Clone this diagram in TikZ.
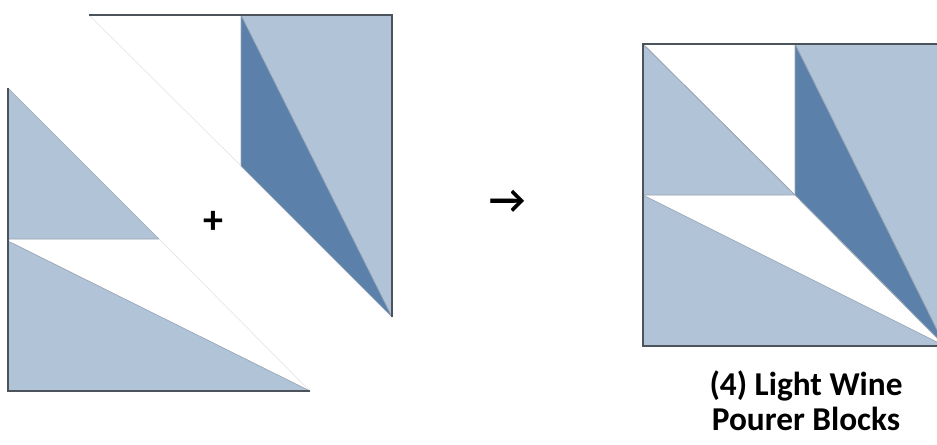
\documentclass[tikz,border=0pt]{standalone}
\usepackage{fontspec}
\setmainfont{Carlito}
\definecolor{lightq}{HTML}{B1C3D7}
\definecolor{darkq}{HTML}{5B81AB}
\definecolor{edgeq}{HTML}{4D535B}
\definecolor{seamq}{HTML}{9AA6B4}
\begin{document}
\begin{tikzpicture}[x=0.75pt,y=-0.75pt,
  lightpiece/.style={fill=lightq,draw=seamq,line width=0.5pt,line join=round},
  darkpiece/.style={fill=darkq,draw=seamq,line width=0.5pt,line join=round},
  faint/.style={draw=black!12,line width=0.4pt},
  border/.style={draw=edgeq,line width=1pt},
  lbl/.style={font=\fontsize{25}{26}\selectfont\bfseries,inner sep=0pt},
  sign/.style={font=\fontsize{30}{30}\selectfont\bfseries,inner sep=0pt}]
\useasboundingbox (0,0) rectangle (937,444);
% ---------- left, exploded block ----------
\fill[lightq] (241,15) -- (392,15) -- (392,317) -- cycle;
\draw[darkpiece] (241,15) -- (241,166) -- (392,317) -- cycle;
\draw[lightpiece] (8,88) -- (8,239) -- (159,239) -- cycle;
\draw[lightpiece] (8,241) -- (8,391) -- (310,391) -- cycle;
\draw[faint] (89,15) -- (241,166);
\draw[faint] (159,239) -- (310,391);
\draw[border] (89,15) -- (392,15) -- (392,317);
\draw[border] (8,88) -- (8,391) -- (310,391);
\node[sign] (plus) at (213,222) {+};
% ---------- arrow ----------
\node[sign] (arr) at (508,202) {→};
% ---------- right, finished block ----------
\draw[lightpiece] (643,44) -- (643,195) -- (795,195) -- cycle;
\draw[lightpiece] (795,44) -- (945,44) -- (945,346) -- cycle;
\draw[darkpiece] (795,44) -- (795,195) -- (945,346) -- cycle;
\draw[lightpiece] (643,195) -- (643,346) -- (945,346) -- cycle;
\draw[draw=seamq,line width=0.5pt] (643,44) -- (795,195) -- (945,346);
\draw[border] (643,44) rectangle (945,346);
\node[lbl,align=center] (cap) at (806,401) {(4) Light Wine\\Pourer Blocks};
\end{tikzpicture}
\end{document}
